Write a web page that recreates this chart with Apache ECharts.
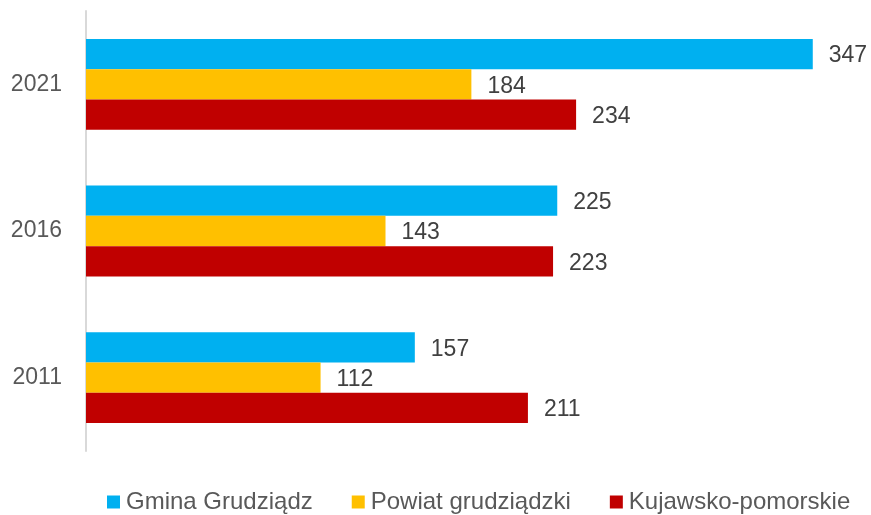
<!DOCTYPE html>
<html>
<head>
<meta charset="utf-8">
<script src="https://cdn.jsdelivr.net/npm/echarts@6/dist/echarts.min.js"></script>
<style>
html,body{margin:0;padding:0;background:#fff;}
#c{width:871px;height:515px;}
</style>
</head>
<body>
<div id="c"></div>
<script>
const categories = ['2011', '2016', '2021'];
const seriesNames = ['Gmina Grudziądz', 'Powiat grudziądzki', 'Kujawsko-pomorskie'];
const gmina = [157, 225, 347];
const powiat = [112, 143, 184];
const kujawsko = [211, 223, 234];
const colors = ['#00B0F0', '#FFC000', '#C00000'];

const chart = echarts.init(document.getElementById('c'));
const values = [gmina, powiat, kujawsko];
const series = seriesNames.map((n, i) => ({
  name: n,
  type: 'bar',
  data: values[i],
  barWidth: 30.3,
  barGap: '0%',
  itemStyle: { color: colors[i] },
  label: { show: true, position: 'right', distance: 16, fontSize: 23, color: '#404040', offset: [0, 2] }
}));
chart.setOption({
  animation: false,
  textStyle: { fontFamily: '"Liberation Sans", Arial, sans-serif' },
  grid: { left: 86, right: 31, top: 11, bottom: 64, containLabel: false },
  legend: {
    top: 490,
    left: 107,
    padding: 0,
    itemWidth: 13,
    itemHeight: 13,
    itemGap: 39,
    icon: 'rect',
    textStyle: { fontSize: 24, color: '#595959', padding: [0, 0, 0, 1] },
    data: seriesNames
  },
  xAxis: {
    type: 'value', min: 0, max: 360,
    show: false
  },
  yAxis: {
    type: 'category',
    data: categories,
    axisLine: { show: true, lineStyle: { color: '#D9D9D9', width: 2 } },
    axisTick: { show: false },
    axisLabel: { fontSize: 23, color: '#595959', margin: 24 }
  },
  series: series
});
</script>
</body>
</html>
